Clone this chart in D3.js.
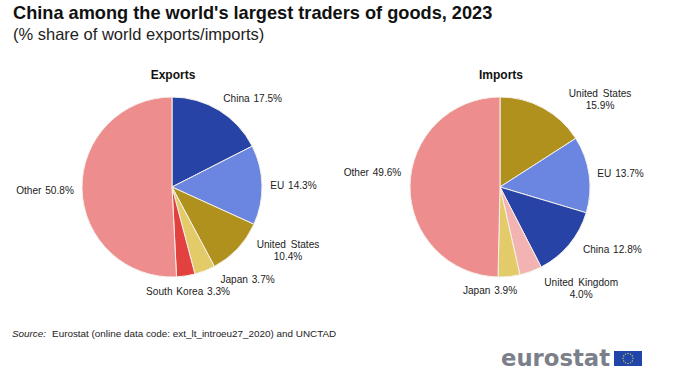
<!DOCTYPE html>
<html>
<head>
<meta charset="utf-8">
<script src="https://cdn.jsdelivr.net/npm/d3@7"></script>
<style>
  html, body { margin: 0; background: #fff; }
  text { font-family: "Liberation Sans", Arial, sans-serif; }
</style>
</head>
<body>
<svg></svg>
<script>
const exportCategories = ['China', 'EU', 'United States', 'Japan', 'South Korea', 'Other'];
const exportValues = [17.5, 14.3, 10.4, 3.7, 3.3, 50.8];

const importCategories = ['United States', 'EU', 'China', 'United Kingdom', 'Japan', 'Other'];
const importValues = [15.9, 13.7, 12.8, 4.0, 3.9, 49.6];

const colors = {
  'China': '#2743a5',
  'EU': '#6b86e0',
  'United States': '#b0911e',
  'Japan': '#e4cb69',
  'South Korea': '#e34040',
  'United Kingdom': '#f4b3b3',
  'Other': '#ee8d8d'
};

// labels sit on a ring round the pie, then get pushed by hand to where they are in the original
const exportNudges = [[19, 12.5], [3.5, 1], [30, -17.5], [32.5, -17.5], [-2, -12], [-9, 0.5]];
const importNudges = [[43.5, 16], [3.7, 3], [21.6, -12.7], [40.8, -9.2], [-21.8, -14], [-9.5, -13.2]];
const twoLines = ['United States', 'United Kingdom'];

const width = 700;
const height = 380;
const radius = 90;
const labelRadius = 118;

const svg = d3.select('svg')
  .attr('width', width)
  .attr('height', height)
  .style('display', 'block');

svg.append('text')
  .attr('x', 13)
  .attr('y', 18.5)
  .attr('font-size', 18.2)
  .attr('font-weight', 'bold')
  .attr('fill', '#111')
  .text("China among the world's largest traders of goods, 2023");

svg.append('text')
  .attr('x', 13)
  .attr('y', 40)
  .attr('font-size', 16.5)
  .attr('fill', '#222')
  .text('(% share of world exports/imports)');

const pie = d3.pie().sort(null).value(d => d.value);
const arc = d3.arc().innerRadius(0).outerRadius(radius);
const labelArc = d3.arc().innerRadius(labelRadius).outerRadius(labelRadius);

function drawPie(title, categories, values, nudges, cx, cy) {
  const data = categories.map((c, i) => ({ category: c, value: values[i], nudge: nudges[i] }));
  const g = svg.append('g').attr('transform', `translate(${cx},${cy})`);

  g.append('text')
    .attr('x', 1)
    .attr('y', -108)
    .attr('text-anchor', 'middle')
    .attr('font-size', 12)
    .attr('font-weight', 'bold')
    .attr('fill', '#111')
    .text(title);

  g.selectAll('path').data(pie(data))
    .enter().append('path')
      .attr('d', arc)
      .attr('fill', d => colors[d.data.category])
      .attr('stroke', '#f4f0ea')
      .attr('stroke-width', 1);

  const labels = g.selectAll('text.label').data(pie(data))
    .enter().append('text')
      .attr('class', 'label')
      .attr('text-anchor', 'middle')
      .attr('font-size', 10.1)
      .attr('fill', '#222')
      .attr('transform', d => {
        const [x, y] = labelArc.centroid(d);
        return `translate(${x + d.data.nudge[0]},${y + d.data.nudge[1]})`;
      });

  labels.each(function(d) {
    const pct = d.data.value.toFixed(1) + '%';
    const t = d3.select(this);
    if (twoLines.includes(d.data.category)) {
      t.append('tspan').attr('x', 0).attr('y', -2.5).attr('word-spacing', 2).text(d.data.category);
      t.append('tspan').attr('x', 0).attr('y', 9.5).text(pct);
    } else {
      t.append('tspan').attr('x', 0).attr('y', 3.5).attr('word-spacing', 1).text(d.data.category + ' ' + pct);
    }
  });
}

drawPie('Exports', exportCategories, exportValues, exportNudges, 172, 187);
drawPie('Imports', importCategories, importValues, importNudges, 500, 187);

const source = svg.append('text')
  .attr('x', 12)
  .attr('y', 337)
  .attr('font-size', 9.9)
  .attr('fill', '#222');
source.append('tspan').attr('font-style', 'italic').text('Source:');
source.append('tspan').attr('dx', 6).text('Eurostat (online data code: ext_lt_introeu27_2020) and UNCTAD');

// eurostat logo
svg.append('text')
  .attr('x', 501)
  .attr('y', 366)
  .attr('font-size', 23)
  .attr('font-weight', 'bold')
  .attr('fill', '#7b7f8a')
  .style('font-family', '"DejaVu Sans", sans-serif')
  .attr('textLength', 109)
  .attr('lengthAdjust', 'spacingAndGlyphs')
  .text('eurostat');

const flag = svg.append('g').attr('transform', 'translate(614,351)');
flag.append('rect').attr('width', 28).attr('height', 15).attr('fill', '#1f45a8');
flag.selectAll('circle').data(d3.range(12))
  .enter().append('circle')
    .attr('cx', i => 14 + 5 * Math.sin(i * Math.PI / 6))
    .attr('cy', i => 7.5 - 5 * Math.cos(i * Math.PI / 6))
    .attr('r', 0.7)
    .attr('fill', '#d9c84a');
</script>
</body>
</html>
